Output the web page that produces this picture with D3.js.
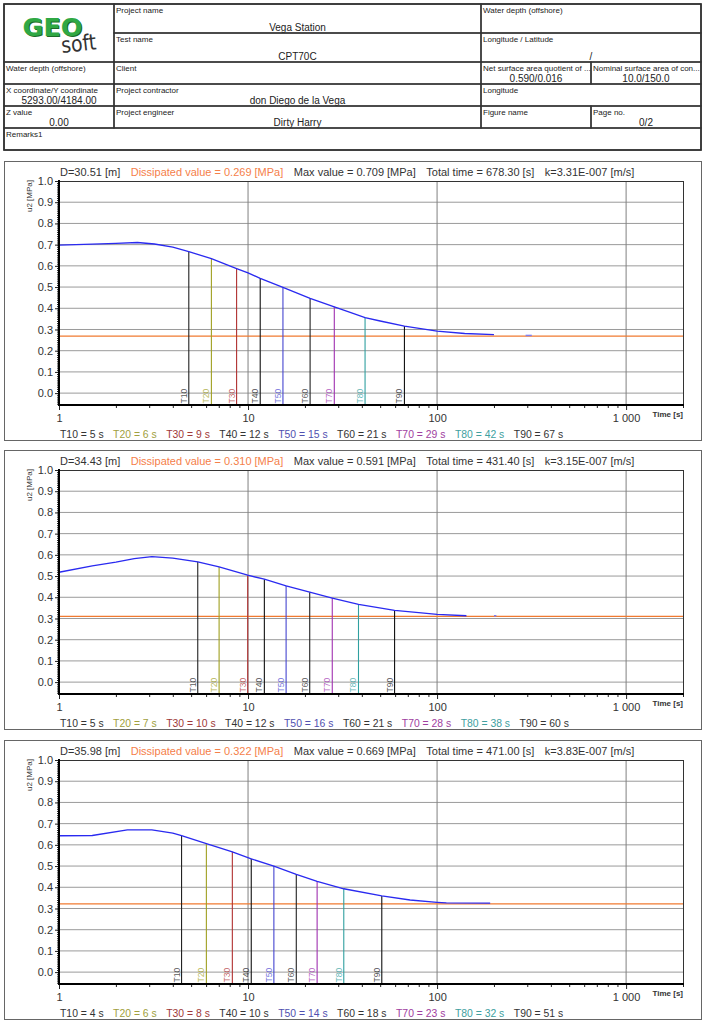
<!DOCTYPE html>
<html lang="en">
<head>
<meta charset="UTF-8">
<title>Dissipation test CPT70C</title>
<script src="https://cdnjs.cloudflare.com/ajax/libs/d3/7.8.5/d3.min.js"></script>
<style>
  body { margin: 0; background: #fff; }
  svg { font-family: "Liberation Sans", Arial, sans-serif; }
</style>
</head>
<body>
<script>
// ---- header table text ----
var tableCells = [
    {r: [0, 1], c: [1, 2], label: "Project name", value: "Vega Station"},
    {r: [0, 1], c: [2, 4], label: "Water depth (offshore)", value: ""},
    {r: [1, 2], c: [1, 2], label: "Test name", value: "CPT70C"},
    {r: [1, 2], c: [2, 4], label: "Longitude / Latitude", value: "/"},
    {r: [2, 3], c: [0, 1], label: "Water depth (offshore)", value: ""},
    {r: [2, 3], c: [1, 2], label: "Client", value: ""},
    {r: [2, 3], c: [2, 3], label: "Net surface area quotient of ...", value: "0.590/0.016"},
    {r: [2, 3], c: [3, 4], label: "Nominal surface area of con...", value: "10.0/150.0"},
    {r: [3, 4], c: [0, 1], label: "X coordinate/Y coordinate", value: "5293.00/4184.00"},
    {r: [3, 4], c: [1, 2], label: "Project contractor", value: "don Diego de la Vega"},
    {r: [3, 4], c: [2, 4], label: "Longitude", value: ""},
    {r: [4, 5], c: [0, 1], label: "Z value", value: "0.00"},
    {r: [4, 5], c: [1, 2], label: "Project engineer", value: "Dirty Harry"},
    {r: [4, 5], c: [2, 3], label: "Figure name", value: ""},
    {r: [4, 5], c: [3, 4], label: "Page no.", value: "0/2"},
    {r: [5, 6], c: [0, 4], label: "Remarks1", value: ""}
];

// ---- test values per depth ----
var depth = [30.51, 34.43, 35.98];
var dissipated = [0.269, 0.310, 0.322];
var maxValue = [0.709, 0.591, 0.669];
var totalTime = [678.30, 431.40, 471.00];
var kValue = ["3.31E-007", "3.15E-007", "3.83E-007"];

var tNames = ["T10", "T20", "T30", "T40", "T50", "T60", "T70", "T80", "T90"];
var tRounded = [
    [5, 6, 9, 12, 15, 21, 29, 42, 67],
    [5, 7, 10, 12, 16, 21, 28, 38, 60],
    [4, 6, 8, 10, 14, 18, 23, 32, 51]
];
var tExact = [
    [4.86, 6.4, 8.7, 11.6, 15.3, 21.3, 28.6, 41.6, 67.2],
    [5.42, 7.03, 9.96, 12.2, 15.9, 21.2, 27.9, 38.4, 59.6],
    [4.45, 6.02, 8.26, 10.4, 13.7, 18.0, 23.2, 32.1, 51]
];

// u2 curves
var time1 = [1, 1.5, 2, 2.6, 3.2, 4, 4.86, 6.4, 8.7, 10, 11.6, 15.3, 21.3, 28.6, 35, 41.6, 50, 67.2, 100, 140, 200];
var u2_1  = [0.698, 0.702, 0.706, 0.710, 0.703, 0.688, 0.667, 0.634, 0.587, 0.567, 0.541, 0.499, 0.447, 0.407, 0.380, 0.356, 0.340, 0.316, 0.292, 0.281, 0.276];
var time2 = [1, 1.5, 2, 2.5, 3.1, 4, 5.42, 7.03, 9.96, 12.2, 15.9, 21.2, 27.9, 38.4, 59.6, 80, 100, 143];
var u2_2  = [0.518, 0.548, 0.566, 0.582, 0.592, 0.585, 0.567, 0.543, 0.504, 0.485, 0.454, 0.424, 0.396, 0.366, 0.338, 0.328, 0.319, 0.313];
var time3 = [1, 1.5, 2.3, 3.1, 4, 4.45, 6.02, 8.26, 10.4, 13.7, 18.0, 23.2, 32.1, 51, 72, 100, 112, 191];
var u2_3  = [0.643, 0.644, 0.671, 0.671, 0.655, 0.643, 0.606, 0.567, 0.534, 0.500, 0.461, 0.428, 0.393, 0.359, 0.340, 0.329, 0.326, 0.325];
var curveTimes = [time1, time2, time3];
var curveValues = [u2_1, u2_2, u2_3];

// isolated readings after the main curve
var strayTime = [[294, 317], [200, 206], []];
var strayValue = [0.272, 0.313, 0];

var yTicks = [0.0, 0.1, 0.2, 0.3, 0.4, 0.5, 0.6, 0.7, 0.8, 0.9, 1.0];
var xTicks = [1, 10, 100, 1000];
var xTickLabels = ["1", "10", "100", "1 000"];

// ---- styles ----
var tLineColors = ["#222", "#a0a020", "#b03030", "#111", "#4545d0", "#222", "#a030b0", "#30a0a0", "#111"];
var tTextColors = ["#333", "#a0a040", "#a03838", "#333", "#5050b0", "#333", "#a040a0", "#40a0a0", "#333"];

var W = 705, H = 1024;
var svg = d3.select("body").append("svg")
    .attr("width", W)
    .attr("height", H);

// ---- header table ----
var colX = [4, 114, 481, 591, 701];
var rowY = [4, 33, 62, 84, 106, 128, 150];
var tbl = svg.append("g");
tbl.append("rect")
    .attr("x", colX[0]).attr("y", rowY[0])
    .attr("width", colX[4] - colX[0]).attr("height", rowY[6] - rowY[0])
    .attr("fill", "none").attr("stroke", "#222").attr("stroke-width", 1.5);
tableCells.forEach(function(d) {
    var x0 = colX[d.c[0]], x1 = colX[d.c[1]], y0 = rowY[d.r[0]], y1 = rowY[d.r[1]];
    tbl.append("rect")
        .attr("x", x0).attr("y", y0).attr("width", x1 - x0).attr("height", y1 - y0)
        .attr("fill", "none").attr("stroke", "#333").attr("stroke-width", 1.3);
    tbl.append("text")
        .attr("x", x0 + 2).attr("y", y0 + 9)
        .attr("font-size", 8).attr("fill", "#222")
        .text(d.label);
    if (d.value) {
        tbl.append("text")
            .attr("x", (x0 + x1) / 2).attr("y", y1 - 2.5)
            .attr("text-anchor", "middle")
            .attr("font-size", 10).attr("fill", "#222")
            .text(d.value);
    }
});
// logo cell
tbl.append("rect")
    .attr("x", colX[0]).attr("y", rowY[0]).attr("width", colX[1] - colX[0]).attr("height", rowY[2] - rowY[0])
    .attr("fill", "none").attr("stroke", "#333").attr("stroke-width", 1.3);
var logo = tbl.append("g");
logo.append("text")
    .attr("x", 23.5).attr("y", 36.5)
    .attr("font-family", "DejaVu Sans").attr("font-weight", "bold").attr("font-size", 24)
    .attr("textLength", 60).attr("lengthAdjust", "spacingAndGlyphs")
    .attr("fill", "#1c6b28").text("GEO");
logo.append("text")
    .attr("x", 22.5).attr("y", 35.5)
    .attr("font-family", "DejaVu Sans").attr("font-weight", "bold").attr("font-size", 24)
    .attr("textLength", 60).attr("lengthAdjust", "spacingAndGlyphs")
    .attr("fill", "#2fa844").text("GEO");
logo.append("text")
    .attr("transform", "translate(62,53) rotate(-6)")
    .attr("font-family", "DejaVu Sans Condensed, DejaVu Sans").attr("font-size", 22)
    .attr("textLength", 35).attr("lengthAdjust", "spacingAndGlyphs")
    .attr("fill", "#333").text("soft");

// ---- dissipation panels ----
var panelTops = [181, 470, 760];
var plotL = 59, plotR = 683, plotH = 224;

function u2At(ts, vs, t) {
    var i = d3.bisectRight(ts, t) - 1;
    i = Math.max(0, Math.min(ts.length - 2, i));
    var f = (Math.log(t) - Math.log(ts[i])) / (Math.log(ts[i + 1]) - Math.log(ts[i]));
    return vs[i] + f * (vs[i + 1] - vs[i]);
}

function placeRow(g, items, x0, yb, size, gap) {
    var x = x0;
    items.forEach(function(it) {
        var t = g.append("text")
            .attr("x", x).attr("y", yb)
            .attr("font-size", size).attr("fill", it.color)
            .text(it.text);
        x += t.node().getComputedTextLength() + gap;
    });
}

panelTops.forEach(function(top, p) {
    var bottom = top + plotH;
    var x = d3.scaleLog().domain([1, 2000]).range([plotL, plotR]);
    var y = d3.scaleLinear().domain([-0.056, 1.0]).range([bottom, top]);
    var g = svg.append("g");

    g.append("rect")
        .attr("x", 4.5).attr("y", top - 19.5)
        .attr("width", 697).attr("height", 279)
        .attr("fill", "none").attr("stroke", "#666").attr("stroke-width", 1);

    // grid
    g.selectAll(".hg").data(yTicks.slice(0, -1)).enter().append("line")
        .attr("x1", plotL).attr("x2", plotR)
        .attr("y1", function(d) { return y(d); }).attr("y2", function(d) { return y(d); })
        .attr("stroke", "#9a9a9a").attr("stroke-width", 1);
    g.selectAll(".vg").data(xTicks.slice(1)).enter().append("line")
        .attr("x1", function(d) { return x(d); }).attr("x2", function(d) { return x(d); })
        .attr("y1", top).attr("y2", bottom)
        .attr("stroke", "#808080").attr("stroke-width", 1);

    // dissipated level
    g.append("line")
        .attr("x1", plotL).attr("x2", plotR)
        .attr("y1", y(dissipated[p])).attr("y2", y(dissipated[p]))
        .attr("stroke", "#f07a30").attr("stroke-width", 1.3);

    // T lines
    var ts = curveTimes[p], vs = curveValues[p];
    tExact[p].forEach(function(t, i) {
        g.append("line")
            .attr("x1", x(t)).attr("x2", x(t))
            .attr("y1", bottom).attr("y2", y(u2At(ts, vs, t)))
            .attr("stroke", tLineColors[i]).attr("stroke-width", 1.1);
        g.append("text")
            .attr("transform", "translate(" + (x(t) - 2) + "," + (bottom - 1.5) + ") rotate(-90)")
            .attr("font-size", 8.5).attr("fill", tLineColors[i]).attr("fill-opacity", 0.75)
            .text(tNames[i]);
    });

    // curve
    var line = d3.line()
        .x(function(d) { return x(d[0]); })
        .y(function(d) { return y(d[1]); });
    g.append("path")
        .attr("d", line(d3.zip(ts, vs)))
        .attr("fill", "none").attr("stroke", "#2a2af0").attr("stroke-width", 1.3);
    if (strayTime[p].length) {
        g.append("path")
            .attr("d", line(strayTime[p].map(function(t) { return [t, strayValue[p]]; })))
            .attr("fill", "none").attr("stroke", "#8080f0").attr("stroke-width", 1.5);
    }

    // axes
    var yMajor = d3.axisLeft(y).tickValues(yTicks).tickSize(4).tickPadding(2)
        .tickFormat(d3.format(".1f"));
    var yMinor = d3.axisLeft(y).tickValues(d3.range(-5, 100).map(function(k) { return k / 100; }))
        .tickSize(2).tickFormat("");
    g.append("g").attr("transform", "translate(" + plotL + ",0)").call(yMinor);
    var yb = g.append("g").attr("transform", "translate(" + plotL + ",0)").call(yMajor);
    yb.selectAll("text").attr("font-size", 11).attr("fill", "#333")
        .attr("font-family", "Liberation Sans, Arial, sans-serif");

    var minorX = x.ticks().filter(function(d) { return xTicks.indexOf(d) < 0; }).concat([2000]);
    var xMinor = d3.axisBottom(x).tickValues(minorX).tickSize(3).tickFormat("");
    var xMajor = d3.axisBottom(x).tickValues(xTicks).tickSize(5).tickPadding(4)
        .tickFormat(function(d, i) { return xTickLabels[i]; });
    g.append("g").attr("transform", "translate(0," + bottom + ")").call(xMinor);
    var xb = g.append("g").attr("transform", "translate(0," + bottom + ")").call(xMajor);
    xb.selectAll("text").attr("font-size", 11).attr("fill", "#333")
        .attr("font-family", "Liberation Sans, Arial, sans-serif");
    g.selectAll(".domain").remove();
    g.selectAll(".tick line").attr("stroke", "#222");

    // frame
    g.append("line").attr("x1", plotL).attr("x2", plotR).attr("y1", top + 0.5).attr("y2", top + 0.5)
        .attr("stroke", "#333").attr("stroke-width", 1);
    g.append("line").attr("x1", plotR + 0.5).attr("x2", plotR + 0.5).attr("y1", top).attr("y2", bottom)
        .attr("stroke", "#333").attr("stroke-width", 1);
    g.append("line").attr("x1", plotL).attr("x2", plotL).attr("y1", top - 1).attr("y2", bottom + 1)
        .attr("stroke", "#000").attr("stroke-width", 2);
    g.append("line").attr("x1", plotL - 1).attr("x2", plotR + 1).attr("y1", bottom).attr("y2", bottom)
        .attr("stroke", "#000").attr("stroke-width", 2);

    g.append("text")
        .attr("text-anchor", "end")
        .attr("x", plotR).attr("y", bottom + 12)
        .attr("font-size", 8).attr("font-weight", "bold").attr("fill", "#333")
        .text("Time [s]");
    g.append("text")
        .attr("transform", "translate(32," + (top - 1) + ") rotate(-90)")
        .attr("text-anchor", "end")
        .attr("font-size", 8).attr("fill", "#333")
        .text("u2 [MPa]");

    // header line and T legend
    placeRow(g, [
        {text: "D=" + depth[p].toFixed(2) + " [m]", color: "#333"},
        {text: "Dissipated value = " + dissipated[p].toFixed(3) + " [MPa]", color: "#f5804a"},
        {text: "Max value = " + maxValue[p].toFixed(3) + " [MPa]", color: "#333"},
        {text: "Total time = " + totalTime[p].toFixed(2) + " [s]", color: "#333"},
        {text: "k=" + kValue[p] + " [m/s]", color: "#333"}
    ], plotL + 1, top - 5, 11, 10.5);
    placeRow(g, tNames.map(function(n, i) {
        return {text: n + " = " + tRounded[p][i] + " s", color: tTextColors[i]};
    }), plotL + 1, top + 257, 10.4, 9.5);
});
</script>
</body>
</html>
